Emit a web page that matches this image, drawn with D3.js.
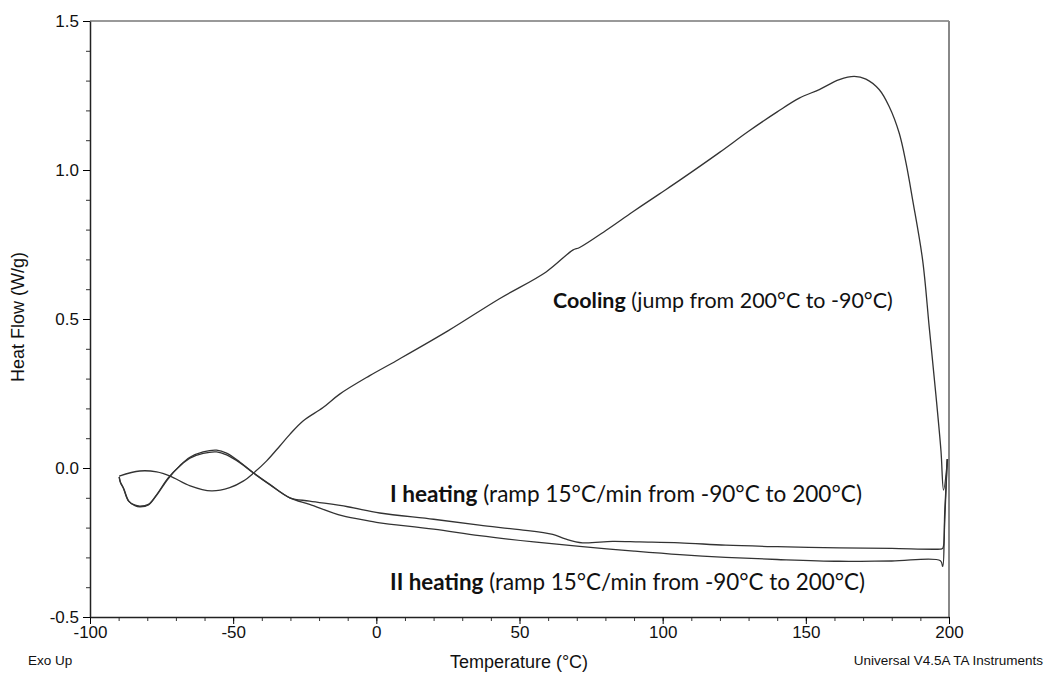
<!DOCTYPE html>
<html lang="en">
<head>
<meta charset="utf-8">
<title>DSC heat flow</title>
<script src="https://d3js.org/d3.v7.min.js"></script>
<style>
  body { margin: 0; background: #fff; }
  .curve { fill: none; stroke: #333; stroke-width: 1.3; }
  .note { font-family: Lato, "Open Sans", sans-serif; fill: #111; }
  .lbl { font-family: "Liberation Sans", Arial, sans-serif; fill: #111; }
</style>
</head>
<body>
<svg id="chart" width="1045" height="673"></svg>
<script>

// data: [temperature °C, heat flow W/g]
var cooling = [[199.5,0.03],[198.1,-0.074],[197.2,0.057],[195.4,0.248],[193.1,0.472],[190.8,0.697],[187.3,0.9],[185,1.023],[182.6,1.124],[179.1,1.213],[175.6,1.27],[171,1.305],[166.9,1.314],[161.7,1.303],[154.7,1.27],[147.7,1.241],[140,1.195],[130,1.13],[120,1.06],[106,0.966],[98.9,0.92],[89.6,0.86],[80.3,0.798],[71,0.74],[68.6,0.731],[59.3,0.658],[43,0.568],[25,0.46],[7,0.36],[-2.3,0.31],[-12.8,0.248],[-18.6,0.203],[-25.6,0.158],[-30.2,0.113],[-33.7,0.074],[-38.3,0.024],[-43,-0.018],[-46.5,-0.044],[-51.2,-0.066],[-57.6,-0.077],[-65,-0.06],[-72,-0.027],[-76.7,-0.013],[-82.6,-0.01],[-89.8,-0.027]];

var heating1 = [[-89.8,-0.03],[-89.5,-0.045],[-88.4,-0.066],[-86.6,-0.11],[-84.5,-0.124],[-82.6,-0.128],[-79.6,-0.122],[-76.7,-0.089],[-72.7,-0.033],[-68.6,0.007],[-65.1,0.033],[-60.5,0.049],[-55.8,0.054],[-52.3,0.044],[-47.7,0.018],[-43,-0.016],[-37.2,-0.055],[-30.2,-0.1],[-23.3,-0.111],[-10,-0.13],[1.2,-0.151],[20,-0.172],[36,-0.192],[50,-0.207],[61.6,-0.223],[66,-0.238],[72,-0.251],[82.5,-0.246],[92,-0.248],[106,-0.251],[122,-0.259],[140,-0.264],[161.6,-0.268],[180,-0.27],[197,-0.272],[197.8,-0.27],[198.5,-0.15],[199.4,0.03]];

var heating2 = [[-89.8,-0.03],[-89.3,-0.05],[-88.2,-0.07],[-86.4,-0.112],[-84.3,-0.126],[-82.6,-0.13],[-79.6,-0.124],[-76.7,-0.091],[-72.7,-0.036],[-68.6,0.008],[-65.1,0.036],[-60.5,0.054],[-55.8,0.06],[-52.3,0.05],[-47.7,0.02],[-43,-0.016],[-37.2,-0.056],[-30.2,-0.1],[-23.3,-0.122],[-12,-0.16],[-2.3,-0.178],[1.2,-0.184],[20,-0.205],[36,-0.227],[55,-0.248],[71,-0.263],[90,-0.279],[106,-0.291],[122,-0.3],[140,-0.307],[161.6,-0.313],[180,-0.312],[197,-0.311],[197.8,-0.33],[198.4,-0.2],[199.4,0.03]];

var xTicks = [-100, -50, 0, 50, 100, 150, 200];
var yTicks = [-0.5, 0.0, 0.5, 1.0, 1.5];

// label texts
var notes = [
  {bold: "Cooling", rest: " (jump from 200°C to -90°C)", x: 553, y: 308, w: 340},
  {bold: "I heating", rest: " (ramp 15°C/min from -90°C to 200°C)", x: 390, y: 502, w: 472},
  {bold: "II heating", rest: " (ramp 15°C/min from -90°C to 200°C)", x: 390, y: 590, w: 475}
];

var svg = d3.select("#chart");
var margin = {top: 21, right: 96, bottom: 56, left: 90};
var width = 1045 - margin.left - margin.right,
    height = 673 - margin.top - margin.bottom;

var g = svg.append("g").attr("transform", "translate(" + margin.left + "," + margin.top + ")");

var x = d3.scaleLinear().domain([-100, 200]).range([0, width]);
var y = d3.scaleLinear().domain([-0.5, 1.5]).range([height, 0]);

// plain hyphen instead of the unicode minus
var fmtX = function (d) { return d3.format("d")(d).replace("−", "-"); };
var fmtY = function (d) { return d3.format(".1f")(d).replace("−", "-"); };

function styleLabels(a) {
  a.selectAll("text")
    .style("font-family", "Liberation Sans, Arial, sans-serif")
    .style("font-size", "17px")
    .attr("fill", "#111");
}

// frame: top and right in grey
g.append("line").attr("x1", 0).attr("x2", width).attr("y1", 0).attr("y2", 0)
  .attr("stroke", "#777").attr("stroke-width", 1.5);
g.append("line").attr("x1", width).attr("x2", width).attr("y1", 0).attr("y2", height)
  .attr("stroke", "#888").attr("stroke-width", 2);

// minor ticks
g.append("g").attr("transform", "translate(0," + height + ")")
  .call(d3.axisBottom(x).ticks(30).tickSize(4).tickFormat(""))
  .call(function (a) { a.select(".domain").remove(); a.selectAll("line").attr("stroke", "#333"); });
g.append("g")
  .call(d3.axisLeft(y).ticks(20).tickSize(4).tickFormat(""))
  .call(function (a) { a.select(".domain").remove(); a.selectAll("line").attr("stroke", "#333"); });

// major axes
g.append("g").attr("transform", "translate(0," + height + ")")
  .call(d3.axisBottom(x).tickValues(xTicks).tickSize(7).tickSizeOuter(0).tickPadding(2).tickFormat(fmtX))
  .call(function (a) { a.select(".domain").attr("stroke", "#222").attr("stroke-width", 1.5); })
  .call(styleLabels);
g.append("g")
  .call(d3.axisLeft(y).tickValues(yTicks).tickSize(7).tickSizeOuter(0).tickPadding(4).tickFormat(fmtY))
  .call(function (a) { a.select(".domain").attr("stroke", "#222").attr("stroke-width", 1.5); })
  .call(styleLabels);

// curves
var line = d3.line()
  .x(function (d) { return x(d[0]); })
  .y(function (d) { return y(d[1]); })
  .curve(d3.curveCatmullRom.alpha(0.5));

[cooling, heating1, heating2].forEach(function (s) {
  g.append("path").datum(s).attr("class", "curve").attr("d", line);
});

// annotations, sized to fit the picture's widths
notes.forEach(function (n) {
  var t = svg.append("text").attr("class", "note").attr("x", n.x).attr("y", n.y).style("font-size", "20px");
  t.append("tspan").attr("font-weight", "bold").text(n.bold);
  t.append("tspan").text(n.rest);
  var len = t.node().getComputedTextLength();
  t.style("font-size", (20 * n.w / len).toFixed(2) + "px");
});

// axis titles
svg.append("text").attr("class", "lbl")
  .attr("x", 519).attr("y", 668)
  .attr("text-anchor", "middle")
  .style("font-size", "18px")
  .text("Temperature (°C)");
svg.append("text").attr("class", "lbl")
  .attr("transform", "translate(24,317) rotate(-90)")
  .attr("text-anchor", "middle")
  .style("font-size", "18px")
  .text("Heat Flow (W/g)");

svg.append("text").attr("class", "lbl")
  .attr("x", 28).attr("y", 665)
  .style("font-size", "13.5px")
  .text("Exo Up");
svg.append("text").attr("class", "lbl")
  .attr("x", 1043).attr("y", 665).attr("text-anchor", "end")
  .style("font-size", "13.5px")
  .text("Universal V4.5A TA Instruments");

</script>
</body>
</html>
